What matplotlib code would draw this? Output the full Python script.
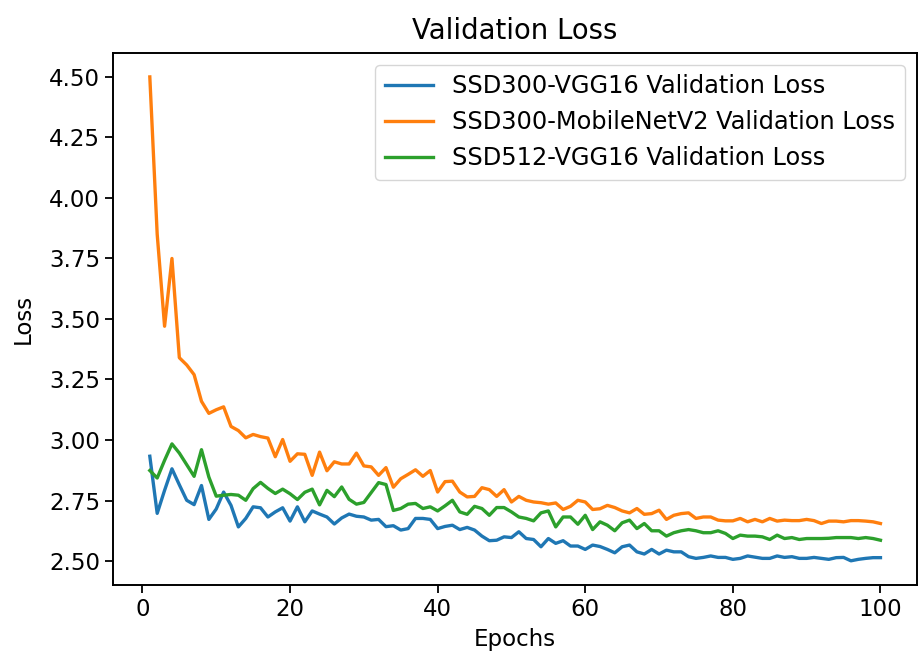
import matplotlib
matplotlib.use("Agg")
import matplotlib.pyplot as plt
import numpy as np

epochs = list(range(1, 101))

ssd300_vgg16 = [
    2.933, 2.697, 2.792, 2.881, 2.815, 2.751, 2.733, 2.812, 2.672, 2.715,
    2.785, 2.730, 2.641, 2.676, 2.724, 2.720, 2.682, 2.703, 2.720, 2.665,
    2.724, 2.662, 2.707, 2.694, 2.682, 2.653, 2.678, 2.694, 2.685, 2.682,
    2.669, 2.672, 2.642, 2.646, 2.628, 2.634, 2.676, 2.676, 2.672, 2.634,
    2.643, 2.648, 2.630, 2.639, 2.628, 2.603, 2.584, 2.586, 2.600, 2.597,
    2.621, 2.593, 2.589, 2.559, 2.593, 2.573, 2.584, 2.562, 2.562, 2.548,
    2.566, 2.560, 2.548, 2.534, 2.559, 2.566, 2.538, 2.529, 2.548, 2.529,
    2.545, 2.538, 2.538, 2.518, 2.511, 2.515, 2.521, 2.515, 2.515, 2.507,
    2.511, 2.521, 2.516, 2.511, 2.511, 2.521, 2.515, 2.518, 2.511, 2.511,
    2.515, 2.511, 2.507, 2.514, 2.515, 2.501, 2.507, 2.511, 2.514, 2.514,
]

ssd300_mobilenetv2 = [
    4.500, 3.850, 3.470, 3.750, 3.340, 3.310, 3.270, 3.160, 3.110, 3.125,
    3.137, 3.056, 3.039, 3.009, 3.023, 3.014, 3.008, 2.931, 3.002, 2.912,
    2.943, 2.941, 2.854, 2.950, 2.873, 2.910, 2.901, 2.901, 2.946, 2.893,
    2.889, 2.854, 2.886, 2.805, 2.840, 2.858, 2.877, 2.850, 2.874, 2.785,
    2.828, 2.830, 2.785, 2.765, 2.767, 2.803, 2.795, 2.767, 2.795, 2.744,
    2.767, 2.751, 2.744, 2.741, 2.735, 2.740, 2.713, 2.726, 2.751, 2.744,
    2.713, 2.716, 2.730, 2.721, 2.707, 2.699, 2.717, 2.693, 2.696, 2.710,
    2.672, 2.689, 2.696, 2.699, 2.676, 2.682, 2.682, 2.669, 2.666, 2.666,
    2.676, 2.662, 2.672, 2.662, 2.676, 2.665, 2.669, 2.667, 2.667, 2.672,
    2.667, 2.655, 2.665, 2.665, 2.662, 2.667, 2.667, 2.665, 2.662, 2.655,
]

ssd512_vgg16 = [
    2.874, 2.843, 2.916, 2.984, 2.946, 2.898, 2.850, 2.960, 2.847, 2.768,
    2.772, 2.775, 2.772, 2.751, 2.799, 2.825, 2.800, 2.779, 2.797, 2.778,
    2.754, 2.784, 2.797, 2.732, 2.792, 2.766, 2.806, 2.755, 2.735, 2.742,
    2.783, 2.824, 2.816, 2.709, 2.717, 2.735, 2.738, 2.717, 2.724, 2.707,
    2.728, 2.751, 2.703, 2.693, 2.726, 2.717, 2.689, 2.721, 2.721, 2.703,
    2.682, 2.676, 2.666, 2.699, 2.707, 2.641, 2.682, 2.682, 2.652, 2.689,
    2.630, 2.662, 2.648, 2.625, 2.658, 2.669, 2.634, 2.655, 2.625, 2.625,
    2.603, 2.617, 2.625, 2.630, 2.625, 2.617, 2.617, 2.625, 2.614, 2.593,
    2.607, 2.603, 2.603, 2.600, 2.589, 2.607, 2.593, 2.597, 2.589, 2.593,
    2.593, 2.593, 2.594, 2.597, 2.597, 2.597, 2.593, 2.597, 2.593, 2.586,
]

series_labels = [
    "SSD300-VGG16 Validation Loss",
    "SSD300-MobileNetV2 Validation Loss",
    "SSD512-VGG16 Validation Loss",
]

plt.rcParams["font.family"] = ["DejaVu Sans"]
fs = 16.5

fig = plt.figure(figsize=(9.18, 6.59), dpi=100)
ax = fig.add_axes([0.1234, 0.1123, 0.8755, 0.8077])

lw = 2.4
ax.plot(epochs, ssd300_vgg16, color="#1f77b4", lw=lw, label=series_labels[0])
ax.plot(epochs, ssd300_mobilenetv2, color="#ff7f0e", lw=lw, label=series_labels[1])
ax.plot(epochs, ssd512_vgg16, color="#2ca02c", lw=lw, label=series_labels[2])

ax.set_yticks([2.50, 2.75, 3.00, 3.25, 3.50, 3.75, 4.00, 4.25, 4.50])
ax.set_xticks([0, 20, 40, 60, 80, 100])
ax.tick_params(labelsize=fs, length=6, width=1.3)
for s in ax.spines.values():
    s.set_linewidth(1.4)

ax.set_title("Validation Loss", fontsize=fs * 1.2, pad=10)
ax.set_xlabel("Epochs", fontsize=fs, labelpad=5)
ax.set_ylabel("Loss", fontsize=fs, labelpad=10)
ax.legend(loc="upper right", fontsize=17.3)

fig.savefig("out.png", dpi=100)
